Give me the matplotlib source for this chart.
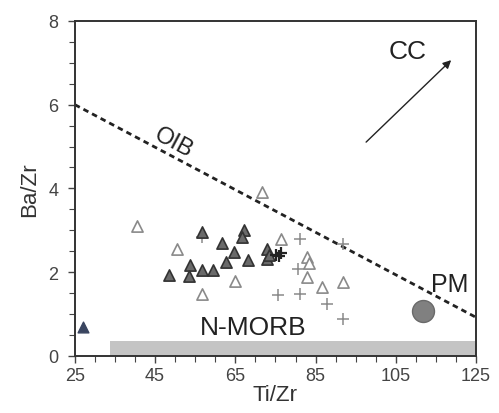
import matplotlib
matplotlib.use("Agg")
import matplotlib.pyplot as plt

plt.rcParams['font.family'] = ['Liberation Sans', 'DejaVu Sans']

# Filled (dark gray) triangles
filled_x = [48.5, 53.7, 53.4, 56.6, 59.5, 61.8, 64.7, 62.6, 67.2, 66.6, 68.2, 72.8, 72.8, 73.3, 56.6]
filled_y = [1.92, 2.16, 1.90, 2.04, 2.06, 2.69, 2.49, 2.24, 3.01, 2.83, 2.28, 2.55, 2.32, 2.42, 2.95]

# Open triangles
open_x = [40.4, 50.4, 56.6, 64.9, 71.6, 76.4, 82.8, 83.3, 82.8, 86.7, 91.9]
open_y = [3.11, 2.55, 1.48, 1.80, 3.91, 2.78, 2.36, 2.21, 1.88, 1.64, 1.76]

# Light gray plus signs
plus_x = [56.8, 81.1, 91.9, 80.7, 75.7, 81.1, 87.8, 91.8]
plus_y = [2.84, 2.78, 2.67, 2.08, 1.46, 1.48, 1.24, 0.88]

# Dark plus signs
dplus_x = [75.2, 76.4, 75.8]
dplus_y = [2.42, 2.45, 2.38]

# Single dark blue triangle
blue_x = [27.0]
blue_y = [0.69]

# Primitive mantle
pm_x = [111.8]
pm_y = [1.07]

# OIB dashed line
oib_x = [25, 125]
oib_y = [6.0, 0.92]

# N-MORB bar
nmorb_x0, nmorb_x1, nmorb_top = 33.7, 125, 0.36

# CC arrow
cc_start = (97.1, 5.06)
cc_end = (119.3, 7.11)

x_ticks = [25, 45, 65, 85, 105, 125]
y_ticks = [0, 2, 4, 6, 8]

fig = plt.figure(figsize=(4.99, 4.14), dpi=100)
ax = fig.add_axes([0.150, 0.138, 0.804, 0.809])

ax.fill_between([nmorb_x0, nmorb_x1], 0, nmorb_top, color='#c4c4c4', lw=0, zorder=1)

ax.plot(oib_x, oib_y, color='#222222', lw=2.0, ls=(0, (2.0, 1.5)), zorder=2)

ax.scatter(plus_x, plus_y, marker='+', s=75, color='#8a8a8a', linewidths=1.1, zorder=3)
ax.scatter(open_x, open_y, marker='^', s=65, facecolor='white', edgecolor='#8a8a8a', linewidths=1.2, zorder=3)
ax.scatter(filled_x, filled_y, marker='^', s=65, facecolor='#6a6a6a', edgecolor='#333333', linewidths=1.2, zorder=4)
ax.scatter(dplus_x, dplus_y, marker='+', s=80, color='#222222', linewidths=1.6, zorder=5)
ax.scatter(blue_x, blue_y, marker='^', s=60, facecolor='#3a4560', edgecolor='#3a4560', zorder=4)
ax.scatter(pm_x, pm_y, marker='o', s=250, facecolor='#808080', edgecolor='#6a6a6a', zorder=4)

ax.annotate('', xy=cc_end, xytext=cc_start,
            arrowprops=dict(arrowstyle='-|>', color='#222222', lw=1.0, mutation_scale=12))

ax.text(108, 7.28, 'CC', fontsize=19, color='#222222', ha='center', va='center')
ax.text(49.5, 5.1, 'OIB', fontsize=17, color='#222222', ha='center', va='center', rotation=-28)
ax.text(118.5, 1.72, 'PM', fontsize=18, color='#222222', ha='center', va='center')
ax.text(69.4, 0.69, 'N-MORB', fontsize=19, color='#222222', ha='center', va='center')

ax.set_xlim(25, 125)
ax.set_ylim(0, 8)
ax.set_xticks(x_ticks)
ax.set_yticks(y_ticks)
ax.set_xticks([x for x in range(25, 126, 5)], minor=True)
ax.set_yticks([y * 0.5 for y in range(0, 17)], minor=True)
ax.tick_params(axis='both', which='both', direction='out', color='#444444', labelsize=13, labelcolor='#444444')
ax.tick_params(which='major', length=5, width=1)
ax.tick_params(which='minor', length=4, width=0.8)
ax.tick_params(axis='y', pad=7)
ax.tick_params(axis='x', pad=3)

for sp in ax.spines.values():
    sp.set_linewidth(1.4)
    sp.set_color('#333333')

ax.set_xlabel('Ti/Zr', fontsize=16, color='#333333', labelpad=0)
ax.set_ylabel('Ba/Zr', fontsize=16, color='#333333', labelpad=6)

fig.savefig('out.png', dpi=100)
